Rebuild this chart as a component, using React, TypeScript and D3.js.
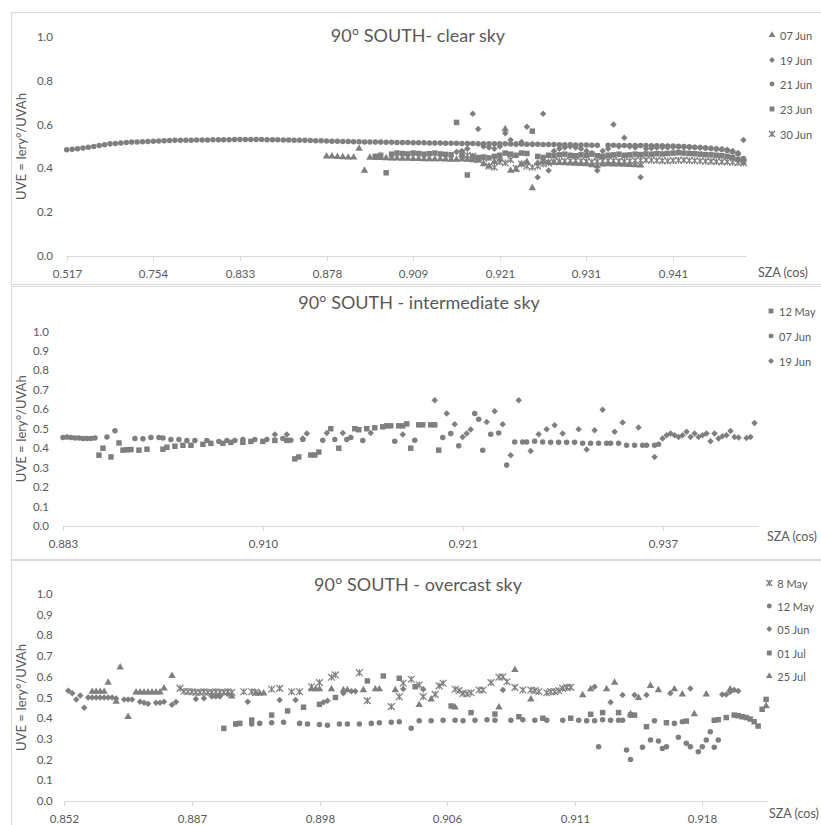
import React, { useEffect, useRef } from "react";
import * as d3 from "d3";

// x positions are category indices (Excel line-with-markers on a category axis)
type Pt = [number, number | null];

const run = (start: number, values: (number | null)[]): Pt[] =>
  values.map((v, k) => [start + k, v]);

// ---------- panel 1: clear sky ----------
const P1_TICKS = ["0.517", "0.754", "0.833", "0.878", "0.909", "0.921", "0.931", "0.941"];

const P1_JUN07 = run(48, [
  0.455, 0.455, 0.453, 0.452, 0.45, 0.45, 0.49, 0.39, 0.449, 0.448,
  0.448, 0.447, 0.446, 0.446, 0.445, 0.445, 0.444, 0.444, 0.443, 0.443,
  0.442, 0.442, 0.441, 0.44, 0.44, 0.441, 0.44, 0.438, 0.437, 0.42,
  0.41, 0.43, 0.44, 0.58, 0.39, 0.395, 0.42, 0.43, 0.31, 0.425,
  0.43, 0.428, 0.426, 0.425, 0.424, 0.423, 0.422, 0.421, 0.42, 0.415,
  0.41, 0.418, 0.42, 0.419, 0.418, 0.417, 0.416, 0.415, 0.414,
]);

const P1_JUN19 = run(72, [
  0.475, 0.48, 0.49, 0.65, 0.58, 0.5, 0.495, 0.49, 0.5, 0.56,
  0.53, 0.51, 0.52, 0.59, 0.51, 0.36, 0.65, 0.39, 0.48, 0.49,
  0.495, 0.5, 0.495, 0.49, 0.48, 0.47, 0.39, 0.48, 0.49, 0.6,
  0.5, 0.54, 0.5, 0.495, 0.36, 0.49, 0.492, 0.494, 0.495, 0.496,
  0.497, 0.498, 0.497, 0.496, 0.495, 0.494, 0.493, 0.492, 0.49, 0.488,
  0.485, 0.48, 0.47, 0.53,
]);

const P1_JUN21 = run(0, [
  0.485, 0.487, 0.49, 0.493, 0.497, 0.5, 0.504, 0.508, 0.512, 0.514,
  0.516, 0.518, 0.52, 0.521, 0.522, 0.523, 0.524, 0.525, 0.526, 0.527,
  0.528, 0.528, 0.529, 0.529, 0.53, 0.53, 0.53, 0.531, 0.531, 0.531,
  0.531, 0.532, 0.532, 0.532, 0.532, 0.532, 0.532, 0.531, 0.531, 0.531,
  0.53, 0.53, 0.529, 0.529, 0.528, 0.527, 0.526, 0.526, 0.525, 0.524,
  0.524, 0.523, 0.523, 0.522, 0.522, 0.521, 0.521, 0.52, 0.52, 0.519,
  0.519, 0.518, 0.518, 0.518, 0.517, 0.517, 0.517, 0.516, 0.516, 0.516,
  0.515, 0.515, 0.515, 0.514, 0.514, 0.514, 0.513, 0.513, 0.513, 0.512,
  0.512, 0.512, 0.511, 0.511, 0.511, 0.51, 0.51, 0.51, 0.509, 0.509,
  0.509, 0.508, 0.508, 0.508, 0.507, 0.507, 0.507, 0.506, 0.506, null,
  0.506, 0.506, 0.505, 0.505, 0.505, 0.504, 0.504, 0.504, 0.503, 0.503,
  0.503, 0.502, 0.502, 0.501, 0.5, 0.499, 0.497, 0.495, 0.493, 0.491,
  0.489, 0.486, 0.482, 0.476, 0.466, 0.445,
]);

const P1_JUN23 = run(57, [
  0.455, 0.46, 0.38, 0.465, 0.47, 0.468, 0.466, 0.47, 0.468, 0.465,
  0.467, 0.47, 0.466, 0.464, 0.462, 0.61, 0.46, 0.37, 0.455, 0.45,
  0.452, 0.448, 0.455, 0.46, 0.47, 0.465, 0.46, 0.47, 0.468, 0.57,
  0.455, 0.45, 0.46, 0.458, 0.462, 0.465, 0.46, 0.458, 0.462, 0.46,
  0.465, 0.458, 0.455, 0.46, 0.462, 0.465, 0.46, 0.462, 0.465, 0.463,
  0.466, 0.465, 0.467, 0.466, 0.468, 0.47, 0.472, 0.47, 0.468, 0.467,
  0.465, 0.463, 0.462, 0.46, 0.458, 0.455, 0.45, 0.44, 0.43,
]);

const P1_JUN30 = run(73, [
  0.47, 0.46, 0.455, 0.44, 0.445, 0.41, 0.405, 0.43, 0.425, 0.44,
  0.4, 0.42, 0.41, 0.405, 0.41, 0.42, 0.425, 0.43, 0.432, 0.434,
  0.435, 0.436, 0.434, 0.432, 0.43, 0.432, 0.434, 0.436, 0.435, 0.433,
  0.432, 0.434, 0.436, 0.437, 0.438, 0.437, 0.436, 0.435, 0.434, 0.436,
  0.437, 0.438, 0.436, 0.435, 0.434, 0.433, 0.432, 0.431, 0.43, 0.43,
  0.428, 0.426, 0.425,
]);

// ---------- panel 2: intermediate sky ----------
const P2_TICKS = ["0.883", "0.910", "0.921", "0.937"];

const P2_MAY12: Pt[] = [
  [9, 0.364], [10, 0.4], [12, 0.355], [14, 0.427], [15, 0.39], [16, 0.392], [17, 0.393],
  [19, 0.39], [21, 0.395], [25, 0.395], [26, 0.405], [28, 0.41], [30, 0.415], [32, 0.415],
  [35, 0.42], [37, 0.425], [40, 0.425], [42, 0.43], [45, 0.43], [47, 0.435], [50, 0.435],
  [53, 0.44], [56, 0.44], [58, 0.345], [59, 0.355], [62, 0.365], [63, 0.365], [64, 0.38],
  [67, 0.5], [69, 0.4], [73, 0.5], [74, 0.495], [76, 0.5], [78, 0.505], [80, 0.51],
  [81, 0.515], [82, 0.515], [84, 0.515], [85, 0.515], [86, 0.525], [87, 0.4], [89, 0.52],
  [90, 0.52], [92, 0.52], [93, 0.52], [94, 0.39],
];

const P2_JUN07: Pt[] = [
  [0, 0.455], [1, 0.457], [2, 0.455], [3, 0.452], [4, 0.452], [5, 0.45], [6, 0.45],
  [7, 0.45], [8, 0.453], [11, 0.458], [13, 0.49], [18, 0.45], [20, 0.448], [22, 0.455],
  [24, 0.455], [25, 0.452], [27, 0.445], [29, 0.445], [31, 0.44], [33, 0.44], [36, 0.44],
  [39, 0.435], [41, 0.44], [43, 0.44], [45, 0.445], [48, 0.445], [51, 0.445], [55, 0.45],
  [57, 0.441], [60, 0.445], [65, 0.441], [68, 0.445], [71, 0.445], [72, 0.455], [75, 0.44],
  [83, 0.436], [88, 0.441], [95, 0.455], [97, 0.475], [99, 0.412], [103, 0.578],
  [104, 0.549], [105, 0.39], [107, 0.472], [109, 0.478], [111, 0.313], [113, 0.432],
  [115, 0.432], [116, 0.432], [118, 0.436], [120, 0.432], [122, 0.43], [124, 0.43],
  [126, 0.43], [128, 0.43], [130, 0.425], [132, 0.425], [134, 0.425], [136, 0.425],
  [137, 0.425], [139, 0.425], [141, 0.415], [143, 0.415], [145, 0.415], [146, 0.415],
  [148, 0.415], [149, 0.42],
];

const P2_JUN19: Pt[] = [
  [53, 0.47], [56, 0.47], [60, 0.45], [61, 0.475], [66, 0.478], [70, 0.478], [77, 0.478],
  [85, 0.47], [93, 0.646], [96, 0.578], [98, 0.523], [100, 0.458], [101, 0.475],
  [102, 0.496], [106, 0.535], [108, 0.59], [110, 0.523], [112, 0.364], [114, 0.646],
  [117, 0.386], [119, 0.472], [121, 0.497], [123, 0.518], [125, 0.475], [129, 0.497],
  [131, 0.393], [133, 0.492], [135, 0.598], [138, 0.484], [140, 0.532], [144, 0.506],
  [148, 0.355], [150, 0.45], [151, 0.467], [152, 0.475], [153, 0.467], [154, 0.458],
  [155, 0.467], [156, 0.484], [157, 0.458], [158, 0.475], [159, 0.458], [160, 0.467],
  [161, 0.475], [162, 0.436], [163, 0.475], [164, 0.45], [165, 0.462], [166, 0.467],
  [167, 0.489], [168, 0.458], [169, 0.455], [171, 0.453], [172, 0.458], [173, 0.53],
];

// ---------- panel 3: overcast sky ----------
const P3_TICKS = ["0.852", "0.887", "0.898", "0.906", "0.911", "0.918"];

const P3_MAY08: Pt[] = [
  [29, 0.544], [30, 0.53], [31, 0.528], [32, 0.528], [33, 0.525], [34, 0.525], [35, 0.528],
  [36, 0.525], [37, 0.525], [38, 0.528], [39, 0.525], [40, 0.525], [41, 0.528], [42, 0.525],
  [45, 0.528], [47, 0.528], [48, 0.525], [52, 0.54], [54, 0.544], [57, 0.528], [59, 0.528],
  [62, 0.552], [64, 0.572], [67, 0.598], [68, 0.609], [74, 0.62], [76, 0.485], [82, 0.456],
  [84, 0.504], [85, 0.569], [87, 0.588], [89, 0.56], [90, 0.504], [93, 0.515], [94, 0.556],
  [95, 0.569], [98, 0.54], [99, 0.533], [100, 0.52], [101, 0.517], [102, 0.523],
  [104, 0.536], [105, 0.536], [107, 0.572], [109, 0.598], [110, 0.6], [111, 0.576],
  [113, 0.549], [115, 0.536], [117, 0.536], [118, 0.533], [119, 0.528], [121, 0.523],
  [122, 0.528], [123, 0.528], [124, 0.533], [125, 0.544], [126, 0.549], [127, 0.549],
];

const P3_MAY12: Pt[] = [
  [43, 0.372], [47, 0.372], [49, 0.375], [52, 0.378], [55, 0.38], [59, 0.375], [61, 0.372],
  [64, 0.37], [66, 0.366], [69, 0.372], [71, 0.372], [74, 0.372], [77, 0.375], [79, 0.378],
  [82, 0.38], [84, 0.383], [87, 0.351], [89, 0.388], [92, 0.388], [95, 0.39], [98, 0.39],
  [100, 0.388], [103, 0.39], [106, 0.393], [108, 0.39], [112, 0.39], [115, 0.393],
  [118, 0.39], [121, 0.39], [125, 0.39], [129, 0.39], [131, 0.388], [133, 0.388],
  [134, 0.262], [135, 0.393], [137, 0.39], [139, 0.39], [140, 0.39], [141, 0.246],
  [142, 0.2], [145, 0.26], [147, 0.295], [148, 0.388], [149, 0.29], [150, 0.254],
  [151, 0.262], [153, 0.375], [154, 0.308], [155, 0.383], [156, 0.279], [157, 0.262],
  [159, 0.238], [160, 0.262], [161, 0.295], [162, 0.335], [163, 0.26], [164, 0.295],
];

const P3_JUN05: Pt[] = [
  [1, 0.533], [2, 0.52], [3, 0.49], [4, 0.51], [5, 0.45], [6, 0.5], [7, 0.5], [8, 0.5],
  [9, 0.5], [10, 0.5], [11, 0.5], [12, 0.5], [13, 0.495], [15, 0.49], [16, 0.49],
  [17, 0.49], [19, 0.48], [20, 0.475], [21, 0.47], [23, 0.475], [24, 0.475], [25, 0.48],
  [27, 0.465], [28, 0.478], [33, 0.493], [35, 0.496], [37, 0.505], [38, 0.505],
  [39, 0.505], [41, 0.517], [46, 0.48], [54, 0.488], [58, 0.488], [65, 0.477], [66, 0.484],
  [70, 0.52], [72, 0.53], [73, 0.53], [85, 0.541], [90, 0.54], [110, 0.536], [133, 0.552],
  [137, 0.477], [140, 0.512], [143, 0.512], [146, 0.512], [152, 0.52], [157, 0.544],
  [165, 0.515], [166, 0.515], [167, 0.528], [168, 0.536], [169, 0.531],
];

const P3_JUL01: Pt[] = [
  [40, 0.351], [43, 0.372], [44, 0.375], [47, 0.391], [52, 0.415], [56, 0.435], [60, 0.453],
  [64, 0.467], [68, 0.5], [76, 0.58], [80, 0.604], [84, 0.593], [88, 0.552], [97, 0.459],
  [102, 0.427], [108, 0.42], [114, 0.407], [120, 0.4], [127, 0.4], [132, 0.419],
  [135, 0.427], [139, 0.427], [142, 0.415], [143, 0.415], [146, 0.359], [151, 0.378],
  [156, 0.386], [163, 0.39], [164, 0.393], [166, 0.403], [168, 0.415], [169, 0.412],
  [170, 0.407], [171, 0.403], [172, 0.396], [173, 0.383], [174, 0.362], [175, 0.443],
  [176, 0.491],
];

const P3_JUL25: Pt[] = [
  [7, 0.528], [8, 0.528], [9, 0.528], [10, 0.528], [11, 0.572], [13, 0.48], [14, 0.646],
  [16, 0.407], [18, 0.525], [19, 0.525], [20, 0.525], [21, 0.525], [22, 0.525], [23, 0.525],
  [24, 0.525], [25, 0.544], [27, 0.605], [42, 0.505], [48, 0.52], [49, 0.52], [50, 0.52],
  [62, 0.54], [63, 0.54], [64, 0.54], [67, 0.54], [70, 0.536], [71, 0.536], [75, 0.536],
  [78, 0.54], [79, 0.54], [83, 0.536], [89, 0.464], [92, 0.491], [98, 0.453], [109, 0.453],
  [113, 0.633], [117, 0.491], [130, 0.512], [132, 0.54], [136, 0.54], [138, 0.572],
  [142, 0.42], [144, 0.498], [147, 0.556], [149, 0.536], [153, 0.54], [155, 0.515],
  [158, 0.42], [161, 0.515], [167, 0.54], [176, 0.459],
];

// ---------- styling / layout ----------
const GRAY = "#7f7f7f";
const TEXT = "#595959";
const LINE = "#d9d9d9";
const FONT = "Lato, 'Liberation Sans', sans-serif";

// Excel "star" marker: an x with a vertical bar
const symbolStar = {
  draw(ctx: any, size: number) {
    const r = Math.sqrt(size) / 2;
    ctx.moveTo(-r, -r);
    ctx.lineTo(r, r);
    ctx.moveTo(-r, r);
    ctx.lineTo(r, -r);
    ctx.moveTo(0, -r);
    ctx.lineTo(0, r);
  },
};

const SHAPES: Record<string, any> = {
  circle: d3.symbolCircle,
  square: d3.symbolSquare,
  triangle: d3.symbolTriangle,
  diamond: d3.symbolDiamond2,
  star: symbolStar,
};

const SIZES: Record<string, number> = {
  circle: 24,
  square: 30,
  triangle: 24,
  diamond: 27,
  star: 46,
};

const panels = [
  {
    title: "90° SOUTH- clear sky",
    titleX: 418,
    titleY: 42,
    frame: [12.5, 284.5],
    x0: 66.7,
    x1: 746.7,
    span: 125.6,
    tickStep: 16,
    ticks: P1_TICKS,
    yTop: 37,
    yBottom: 256,
    yTickCount: 5,
    yLabelRight: 53,
    szaX: 758,
    szaY: 277,
    legendX: 772,
    legendY: [35, 60, 84, 109, 134],
    series: [
      { name: "07 Jun", shape: "triangle", pts: P1_JUN07 },
      { name: "19 Jun", shape: "diamond", pts: P1_JUN19 },
      { name: "21 Jun", shape: "circle", pts: P1_JUN21 },
      { name: "23 Jun", shape: "square", pts: P1_JUN23 },
      { name: "30 Jun", shape: "star", pts: P1_JUN30 },
    ],
  },
  {
    title: "90° SOUTH - intermediate sky",
    titleX: 419,
    titleY: 309,
    frame: [286.5, 559.5],
    x0: 63,
    x1: 758.5,
    span: 174,
    tickStep: 50,
    ticks: P2_TICKS,
    yTop: 331.5,
    yBottom: 526,
    yTickCount: 10,
    yLabelRight: 49,
    szaX: 767,
    szaY: 541,
    legendX: 771,
    legendY: [311, 336, 361],
    series: [
      { name: "12 May", shape: "square", pts: P2_MAY12 },
      { name: "07 Jun", shape: "circle", pts: P2_JUN07 },
      { name: "19 Jun", shape: "diamond", pts: P2_JUN19 },
    ],
  },
  {
    title: "90° SOUTH - overcast sky",
    titleX: 418,
    titleY: 591,
    frame: [560.5, 900],
    x0: 64.3,
    x1: 767.7,
    span: 176.4,
    tickStep: 32,
    ticks: P3_TICKS,
    yTop: 594,
    yBottom: 801,
    yTickCount: 10,
    yLabelRight: 52.7,
    szaX: 769,
    szaY: 818,
    legendX: 769.3,
    legendY: [583, 606, 629, 653, 676],
    series: [
      { name: "8 May", shape: "star", pts: P3_MAY08 },
      { name: "12 May", shape: "circle", pts: P3_MAY12 },
      { name: "05 Jun", shape: "diamond", pts: P3_JUN05 },
      { name: "01 Jul", shape: "square", pts: P3_JUL01 },
      { name: "25 Jul", shape: "triangle", pts: P3_JUL25 },
    ],
  },
];

function markerPath(shape: string, scale: number) {
  return d3.symbol().type(SHAPES[shape]).size(SIZES[shape] * scale)() as string;
}

function styleMarker(sel: any, shape: string) {
  if (shape === "star") {
    sel.attr("fill", "none").attr("stroke", GRAY).attr("stroke-width", 1.2);
  } else {
    sel.attr("fill", GRAY);
  }
}

function drawPanel(svg: any, p: any) {
  const x = d3.scaleLinear().domain([0, p.span]).range([p.x0, p.x1]);
  const y = d3.scaleLinear().domain([0, 1]).range([p.yBottom, p.yTop]);
  const g = svg.append("g");

  // chart frame (open to the right, as in the cropped original)
  g.append("rect")
    .attr("x", 11.5)
    .attr("y", p.frame[0])
    .attr("width", 900)
    .attr("height", p.frame[1] - p.frame[0])
    .attr("fill", "none")
    .attr("stroke", LINE);

  // title
  g.append("text")
    .attr("x", p.titleX)
    .attr("y", p.titleY)
    .attr("text-anchor", "middle")
    .attr("font-size", 18)
    .attr("fill", TEXT)
    .text(p.title);

  // x axis
  g.append("line")
    .attr("x1", p.x0)
    .attr("x2", p.x1)
    .attr("y1", p.yBottom + 0.5)
    .attr("y2", p.yBottom + 0.5)
    .attr("stroke", LINE);

  p.ticks.forEach((label: string, k: number) => {
    const xx = Math.round(x(k * p.tickStep)) + 0.5;
    g.append("line")
      .attr("x1", xx)
      .attr("x2", xx)
      .attr("y1", p.yBottom)
      .attr("y2", p.yBottom + 5)
      .attr("stroke", LINE);
    g.append("text")
      .attr("x", xx)
      .attr("y", p.yBottom + 22)
      .attr("text-anchor", "middle")
      .attr("font-size", 11.5)
      .attr("fill", TEXT)
      .text(label);
  });

  g.append("text")
    .attr("x", p.szaX)
    .attr("y", p.szaY)
    .attr("font-size", 12.5)
    .attr("fill", TEXT)
    .text("SZA (cos)");

  // y tick labels (no axis line, no gridlines)
  y.ticks(p.yTickCount).forEach((t: number) => {
    g.append("text")
      .attr("x", p.yLabelRight)
      .attr("y", y(t) + 4)
      .attr("text-anchor", "end")
      .attr("font-size", 11.5)
      .attr("fill", TEXT)
      .text(d3.format(".1f")(t));
  });

  g.append("text")
    .attr("transform", `translate(26,${(p.yTop + p.yBottom) / 2}) rotate(-90)`)
    .attr("text-anchor", "middle")
    .attr("font-size", 13)
    .attr("fill", TEXT)
    .text("UVE = Iery°/UVAh");

  // series markers
  p.series.forEach((s: any) => {
    const path = markerPath(s.shape, 1);
    const pts = s.pts.filter((d: Pt) => d[1] !== null);
    const sel = g
      .append("g")
      .selectAll("path")
      .data(pts)
      .join("path")
      .attr("d", path)
      .attr("transform", (d: Pt) => `translate(${x(d[0])},${y(d[1] as number)})`);
    styleMarker(sel, s.shape);
  });

  // legend
  p.series.forEach((s: any, k: number) => {
    const ly = p.legendY[k];
    const m = g
      .append("path")
      .attr("d", markerPath(s.shape, 0.8))
      .attr("transform", `translate(${p.legendX},${ly})`);
    styleMarker(m, s.shape);
    g.append("text")
      .attr("x", p.legendX + 8)
      .attr("y", ly + 4.5)
      .attr("font-size", 11)
      .attr("fill", TEXT)
      .text(s.name);
  });
}

export default function App() {
  const ref = useRef<SVGSVGElement>(null);

  useEffect(() => {
    const svg = d3.select(ref.current);
    svg.selectAll("*").remove();
    svg
      .append("rect")
      .attr("width", 821)
      .attr("height", 825)
      .attr("fill", "#ffffff");
    panels.forEach((p) => drawPanel(svg, p));
  }, []);

  return (
    <svg
      ref={ref}
      width={821}
      height={825}
      style={{ position: "absolute", left: 0, top: 0, fontFamily: FONT }}
    />
  );
}
